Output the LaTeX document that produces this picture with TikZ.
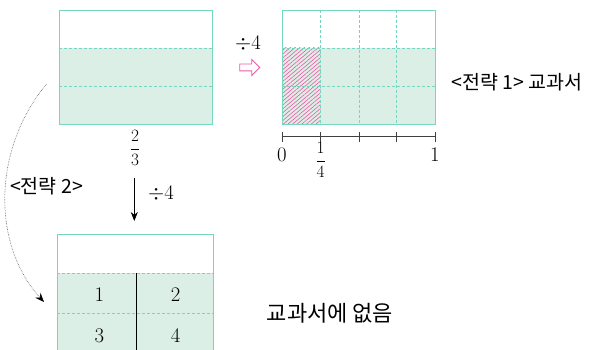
\documentclass[tikz,border=0pt]{standalone}
\usepackage{fontspec}
\usepackage{amsmath}
\newfontfamily\kr{Noto Sans CJK KR}
\usetikzlibrary{patterns.meta,arrows.meta,shapes.arrows}
\definecolor{barline}{RGB}{118,214,190}
\definecolor{barfill}{RGB}{220,239,230}
\definecolor{hatchpink}{RGB}{234,90,165}
\tikzset{
  bar/.style={draw=barline,line width=0.8pt,anchor=north west,inner sep=0pt,
    minimum width=153pt,minimum height=114.5pt},
  grid line/.style={barline,densely dashed,line width=0.5pt},
  num/.style={font=\fontsize{19.5}{23}\selectfont},
  krtext/.style={font=\kr\fontsize{19.5}{23}\selectfont},
}
\begin{document}
\begin{tikzpicture}[x=1pt,y=-1pt]
\useasboundingbox (0,0) rectangle (589,350);
\clip (0,0) rectangle (589,350);
% shaded parts
\fill[barfill] (59,48) rectangle (212,124.5);
\fill[barfill] (282,48) rectangle (435,124.5);
\fill[pattern={Lines[angle=40,distance=3pt,line width=0.6pt]},pattern color=hatchpink]
  (282,48) rectangle (320.7,124.5);
\fill[barfill] (56.7,273.3) rectangle (213.3,360);
% 2/3 bar
\draw[grid line] (59,48) -- (212,48);
\draw[grid line] (59,86.7) -- (212,86.7);
\node[bar] (A) at (59,10) {};
\node[font=\fontsize{19}{23}\selectfont] (fA) at (135,148) {$\dfrac{2}{3}$};
% divided bar
\foreach \x in {320.7,359,396.7}
  \draw[grid line] (\x,10) -- (\x,124.5);
\draw[grid line] (282,48) -- (435,48);
\draw[grid line] (282,86.7) -- (435,86.7);
\node[bar] (B) at (282,10) {};
% number line
\draw[black!75,line width=0.6pt] (282,136.7) -- (435,136.7);
\foreach \x in {282,320.7,359,396.7,435}
  \draw[black!75,line width=0.6pt] (\x,131.7) -- (\x,141.7);
\node[num] (n0) at (282,155) {$0$};
\node[num] (n1) at (435,155) {$1$};
\node[font=\fontsize{17}{20}\selectfont] (nq) at (320.7,160) {$\dfrac{1}{4}$};
\node[krtext] (s1) at (517,82) {<전략 1> 교과서};
% pink arrow
\node[num] (d4a) at (248,44) {$\div 4$};
\node[single arrow,draw=hatchpink,line width=0.8pt,inner sep=3pt,
  minimum height=20pt,single arrow head extend=4.5pt] (go) at (248,67.5) {};
% down arrow
\coordinate (d1) at (134.3,178);
\coordinate (d2) at (134.3,221);
\draw[-{Stealth[length=9pt,width=7pt]},line width=0.6pt] (d1) -- (d2);
\node[num] (d4b) at (161,194) {$\div 4$};
% strategy 2
\coordinate (c1) at (46.5,84);
\coordinate (c2) at (44,302);
\draw[densely dotted,black!65,line width=0.6pt,-{Stealth[length=9pt,width=7pt,black]}]
  (c1) .. controls (-8,150) and (-8,245) .. (c2);
\node[krtext] (s2) at (46.5,186.5) {<전략 2>};
% quarter bar
\draw[grid line] (56.7,273.3) -- (213.3,273.3);
\draw[grid line] (56.7,313.3) -- (213.3,313.3);
\draw[black,line width=0.6pt] (136.7,273.3) -- (136.7,360);
\node[bar,minimum width=156.6pt,minimum height=125pt] (C) at (56.7,234.3) {};
\node[num] (q1) at (99.3,295) {$1$};
\node[num] (q2) at (175.7,295) {$2$};
\node[num] (q3) at (99.3,335.7) {$3$};
\node[num] (q4) at (175.7,335.7) {$4$};
\node[font=\kr\fontsize{22}{26}\selectfont] (s3) at (330,313) {교과서에 없음};
\end{tikzpicture}
\end{document}
